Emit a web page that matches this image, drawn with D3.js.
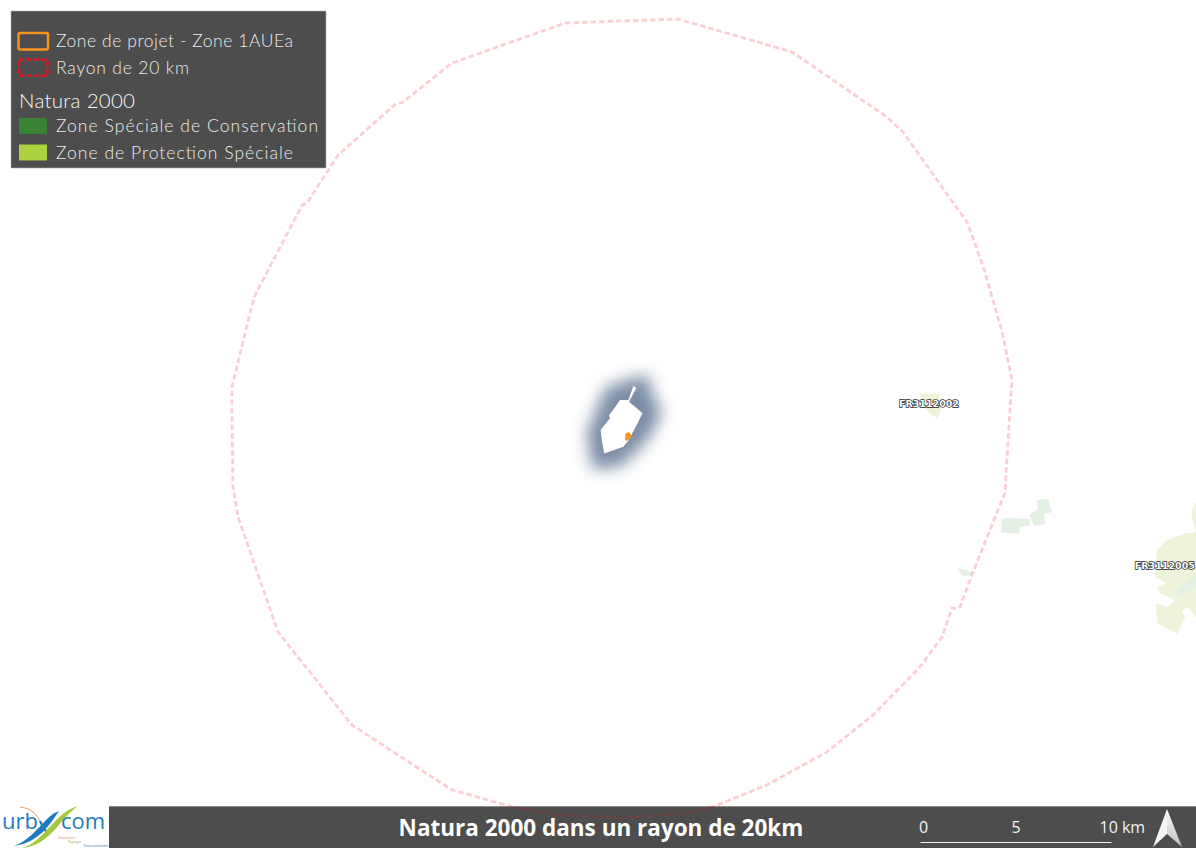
<!DOCTYPE html>
<html>
<head>
<meta charset="utf-8">
<script src="https://cdn.jsdelivr.net/npm/d3@7"></script>
<style>
  html, body { margin: 0; padding: 0; background: #fff; overflow: hidden; }
  svg { display: block; }
</style>
</head>
<body>
<script>
// map data, km east / north of the commune centre
const radius20km = [[-2.98,20.52],[-0.10,20.63],[2.93,20.73],[8.90,19.01],[13.87,15.60],[14.71,14.82],[18.06,10.10],[18.22,9.69],[19.01,7.49],[19.16,6.91],[19.90,4.35],[20.42,1.83],[20.31,0.26],[20.05,-4.08],[19.79,-4.71],[18.38,-8.22],[17.70,-10.05],[17.54,-10.16],[17.28,-10.10],[16.75,-11.62],[15.60,-13.19],[13.14,-15.71],[10.73,-17.64],[7.59,-19.37],[4.87,-20.47],[3.40,-20.84],[-0.10,-21.10],[-3.25,-20.94],[-5.71,-20.52],[-8.90,-19.63],[-14.14,-16.23],[-18.01,-11.36],[-20.10,-5.34],[-20.37,-3.77],[-20.42,0.26],[-20.42,1.47],[-19.37,5.76],[-19.21,6.28],[-16.75,10.99],[-16.49,11.10],[-14.87,13.61],[-11.78,16.34],[-11.52,16.34],[-8.90,18.43]];
const commune = [[0.60,1.52],[0.33,0.79],[-0.10,0.79],[-0.54,0.17],[-0.68,0],[-0.63,-0.17],[-1.12,-0.79],[-1.06,-1.31],[-0.93,-2.01],[0.07,-1.66],[0.33,-1.35],[0.68,-0.70],[1.08,0.09],[0.37,0.70],[0.75,1.42]];
const communeGlow = [[0.80,2.00],[1.40,2.05],[1.60,1.04],[2.10,0.16],[1.40,-1.25],[-0.05,-2.70],[-1.55,-2.85],[-1.85,-0.95],[-0.85,1.45]];
const projectZone = [[0.19,-0.97],[0.37,-0.89],[0.52,-1.10],[0.26,-1.36],[0.16,-1.31]];
const zpsAreas = [
  [[15.6,1.15],[16.6,1.10],[16.7,0.26],[16.5,-0.16],[16.2,0],[15.7,0.52]],
  [[30.05,-4.55],[29.79,-5.08],[30.05,-6.13],[29.37,-6.23],[28.53,-6.54],[28.01,-7.07],[27.91,-8.48],[28.95,-9.06],[28.53,-8.80],[28.01,-9.01],[28.17,-9.32],[28.95,-9.69],[28.53,-10.05],[27.96,-9.84],[28.01,-10.89],[29.06,-11.47],[29.48,-10.63],[29.32,-10.21],[29.63,-10.05],[30.05,-10.63]]
];
const zscAreas = [
  [[19.88,-5.46],[20.21,-5.39],[21.26,-5.45],[21.41,-5.76],[20.84,-5.86],[20.79,-6.23],[19.84,-6.15]],
  [[21.73,-4.45],[22.30,-4.40],[22.51,-5.08],[22.09,-5.18],[22.15,-5.71],[21.57,-5.81],[21.31,-5.24],[21.78,-4.92]],
  [[17.54,-8.01],[17.80,-8.06],[18.38,-8.22],[18.27,-8.38],[17.80,-8.43]],
  [[12.36,-5.76],[12.46,-5.74],[12.41,-5.82]],
  [[28.95,-9.16],[30.05,-8.38],[30.05,-8.95],[29.16,-9.5]]
];
const siteLabels = ['FR3112002', 'FR3112005'];
const sitePositions = [[16.07,0.58],[28.42,-7.90]];

const legendLines = ['Zone de projet - Zone 1AUEa', 'Rayon de 20 km'];
const legendHeading = 'Natura 2000';
const legendAreas = ['Zone Spéciale de Conservation', 'Zone de Protection Spéciale'];
const legendColors = ['#3a8335', '#aed23f'];
const title = 'Natura 2000 dans un rayon de 20km';
const scaleTicks = [0, 5, 10];
const taglines = ['Urbanisme', 'Paysage', 'Environnement'];
const taglineColors = ['#e8873a', '#8fb23a', '#1f7ac0'];

const width = 1196;
const height = 848;
const grey = '#4d4d4d';
// rendered widths of the legend labels, the original font is wider than Lato
const lineWidths = [237, 133];
const areaWidths = [262, 237];

const svg = d3.select('body').append('svg')
  .attr('width', width)
  .attr('height', height);

// 19.1 px per km, centre of the map at 622,415
const x = d3.scaleLinear().domain([0, 10]).range([622, 813]);
const y = d3.scaleLinear().domain([0, 10]).range([415, 224]);
const line = d3.line().x((d) => x(d[0])).y((d) => y(d[1])).curve(d3.curveLinearClosed);

const defs = svg.append('defs');
defs.append('filter').attr('id', 'glow')
  .attr('x', '-80%').attr('y', '-80%').attr('width', '260%').attr('height', '260%')
  .append('feGaussianBlur').attr('stdDeviation', 8);
const arrowGrad = defs.append('linearGradient').attr('id', 'arrowGrad')
  .attr('x1', 0).attr('y1', 0).attr('x2', 0).attr('y2', 1);
arrowGrad.append('stop').attr('offset', 0).attr('stop-color', '#ffffff');
arrowGrad.append('stop').attr('offset', 1).attr('stop-color', '#bdbdbd');

// natura 2000 sites, very washed out
const map = svg.append('g');
map.selectAll('.zps').data(zpsAreas).join('path')
  .attr('class', 'zps').attr('d', line).attr('fill', '#eef4d9');
map.selectAll('.zsc').data(zscAreas).join('path')
  .attr('class', 'zsc').attr('d', line).attr('fill', '#e4f0e4');

// commune with its halo
map.append('path').attr('d', line(communeGlow))
  .attr('fill', '#7c8da5').attr('filter', 'url(#glow)');
map.append('path').attr('d', line(commune)).attr('fill', '#fff');
map.append('path').attr('d', line(projectZone)).attr('fill', '#f7941d');

// site codes with a dark outline
map.selectAll('.site').data(siteLabels).join('text')
  .attr('class', 'site')
  .attr('x', (d, i) => x(sitePositions[i][0]))
  .attr('y', (d, i) => y(sitePositions[i][1]))
  .attr('dy', '0.35em')
  .attr('text-anchor', 'middle')
  .attr('font-family', '"DejaVu Sans"')
  .attr('font-size', 9.5)
  .attr('font-weight', 'bold')
  .attr('fill', '#fff')
  .attr('stroke', '#222')
  .attr('stroke-width', 1.4)
  .attr('paint-order', 'stroke')
  .text((d) => d);

// legend
const legend = svg.append('g').attr('font-family', 'Lato').attr('fill', '#ececec');
legend.append('rect')
  .attr('x', 11).attr('y', 11).attr('width', 315).attr('height', 157)
  .attr('fill', grey).attr('stroke', '#b0b0b0').attr('stroke-width', 0.6);
legend.append('rect')
  .attr('x', 18.5).attr('y', 33).attr('width', 29.5).attr('height', 16.5).attr('rx', 1.5)
  .attr('fill', 'none').attr('stroke', '#f7941d').attr('stroke-width', 2.5);
legend.append('rect')
  .attr('x', 19).attr('y', 59.5).attr('width', 28.5).attr('height', 16)
  .attr('fill', 'none').attr('stroke', '#e0161e').attr('stroke-width', 2.5)
  .attr('stroke-dasharray', '5 2.5');
legend.selectAll('.swatch').data(legendColors).join('rect')
  .attr('class', 'swatch')
  .attr('x', 19).attr('y', (d, i) => 118 + i * 26.5)
  .attr('width', 28).attr('height', 16)
  .attr('fill', (d) => d);
legend.selectAll('.line').data(legendLines).join('text')
  .attr('class', 'line')
  .attr('x', 56).attr('y', (d, i) => 47 + i * 27)
  .attr('font-size', 17.5)
  .attr('font-weight', 300)
  .attr('textLength', (d, i) => lineWidths[i])
  .text((d) => d);
legend.append('text')
  .attr('x', 19).attr('y', 108)
  .attr('font-size', 20.5)
  .attr('font-weight', 300)
  .attr('textLength', 116)
  .attr('fill', '#f6f6f6')
  .text(legendHeading);
legend.selectAll('.area').data(legendAreas).join('text')
  .attr('class', 'area')
  .attr('x', 56).attr('y', (d, i) => 132 + i * 27)
  .attr('font-size', 17.5)
  .attr('font-weight', 300)
  .attr('textLength', (d, i) => areaWidths[i])
  .text((d) => d);

// bottom band
svg.append('rect')
  .attr('x', 109).attr('y', 806).attr('width', width - 109).attr('height', 42)
  .attr('fill', grey);
svg.append('rect')
  .attr('x', 109).attr('y', 806).attr('width', width - 109).attr('height', 1)
  .attr('fill', '#8c8c8c');

// 20 km radius, semi transparent so it still shows across the band
svg.append('path').attr('d', line(radius20km))
  .attr('fill', 'none')
  .attr('stroke', '#e8141c')
  .attr('stroke-opacity', 0.2)
  .attr('stroke-width', 2.8)
  .attr('stroke-dasharray', '5.5 3');

svg.append('text')
  .attr('x', 601).attr('y', 836)
  .attr('text-anchor', 'middle')
  .attr('font-family', '"Open Sans"')
  .attr('font-weight', 'bold')
  .attr('font-size', 22.5)
  .attr('fill', '#fff')
  .text(title);

// scale bar
const scaleKm = d3.scaleLinear().domain([0, 10]).range([920, 1111]);
const bar = svg.append('g').attr('transform', 'translate(0,842)');
bar.call(d3.axisTop(scaleKm).tickValues(scaleTicks).tickSize(0).tickPadding(9)
  .tickFormat((d) => (d === 10 ? '10 km' : d)));
bar.select('.domain').attr('stroke', '#f2f2f2').attr('stroke-width', 1.2);
bar.selectAll('text')
  .attr('font-family', '"Open Sans"')
  .attr('font-size', 16)
  .attr('fill', '#f2f2f2');
bar.selectAll('.tick').filter((d) => d === 10).select('text').attr('text-anchor', 'start').attr('dx', -12);
bar.selectAll('.tick').filter((d) => d === 0).select('text').attr('dx', 3);

// north arrow
svg.append('path').attr('d', 'M1167,809L1153,847L1167,834Z').attr('fill', '#f4f4f4');
svg.append('path').attr('d', 'M1167,809L1182,847L1167,834Z').attr('fill', 'url(#arrowGrad)');

// logo
const logo = svg.append('g');
logo.append('rect').attr('x', 0).attr('y', 806).attr('width', 109).attr('height', 42).attr('fill', '#fff');
logo.append('path').attr('d', 'M20,807C30,808 38,814 41,824').attr('fill', 'none').attr('stroke', '#d98a4a').attr('stroke-width', 0.8);
logo.append('path').attr('d', 'M40,821C42,826 45,830 48,834').attr('fill', 'none').attr('stroke', '#1f7ac0').attr('stroke-width', 2.2);
logo.append('path').attr('d', 'M22,848C44,842 55,812 78,806C60,818 50,846 22,848Z').attr('fill', '#a5c93d');
logo.append('path').attr('d', 'M14,846C36,838 44,816 59,811C50,824 40,842 14,846Z').attr('fill', '#1f7ac0');
logo.append('text').attr('x', 2).attr('y', 829)
  .attr('font-family', '"Open Sans"').attr('font-size', 22).attr('fill', '#1f7ac0').text('urb');
logo.append('text').attr('x', 61).attr('y', 829)
  .attr('font-family', '"Open Sans"').attr('font-size', 22).attr('fill', '#1f7ac0').text('com');
logo.selectAll('.tagline').data(taglines).join('text')
  .attr('class', 'tagline')
  .attr('x', (d, i) => 58 + i * 10 + (i === 2 ? 6 : 0))
  .attr('y', (d, i) => 838.5 + i * 4)
  .attr('font-family', '"Open Sans"')
  .attr('font-size', 3.4)
  .attr('fill', (d, i) => taglineColors[i])
  .text((d) => d);
</script>
</body>
</html>
